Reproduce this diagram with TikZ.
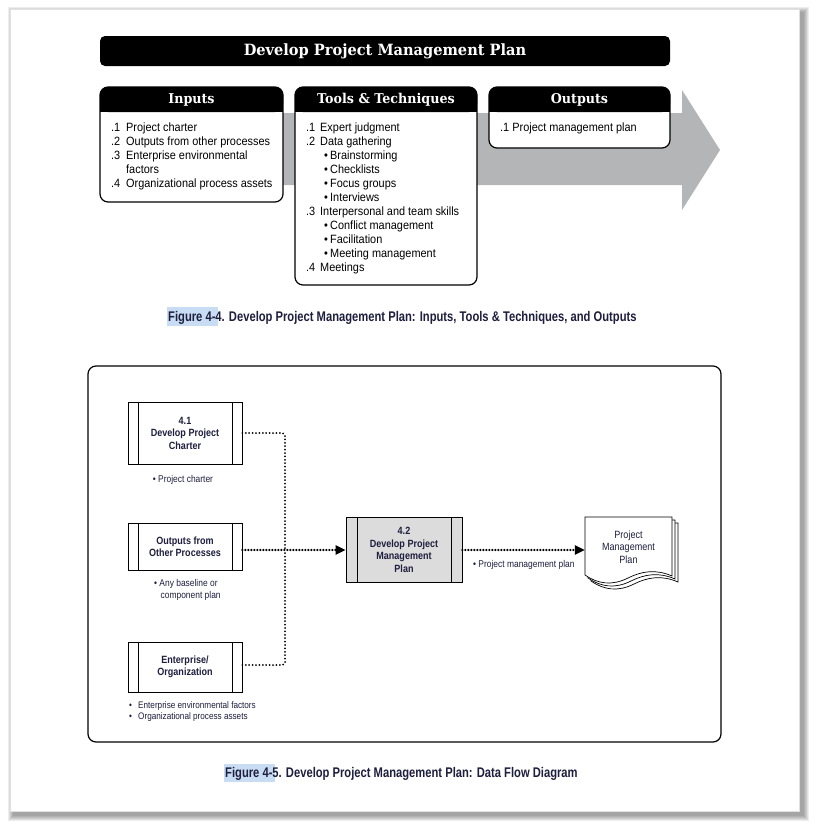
\documentclass[tikz,border=0pt]{standalone}
\usepackage{fontspec}
\setmainfont{Liberation Sans}
\newfontfamily\bodyfont{Liberation Sans}[FakeStretch=0.91]
\newfontfamily\smallfont{Liberation Sans}[FakeStretch=0.86]
\newfontfamily\capfont{Liberation Sans}[FakeStretch=0.80]
\newfontfamily\slabfont{DejaVu Serif}[FakeStretch=0.94]
\usetikzlibrary{arrows.meta}

\definecolor{arrowgray}{RGB}{180,181,183}
\definecolor{navy}{RGB}{30,30,62}
\definecolor{hilite}{RGB}{200,221,243}
\definecolor{procfill}{RGB}{220,220,220}

\newcommand\blt{\makebox[10pt][l]{\hspace{4pt}\textbullet}}

% one Inputs / Tools / Outputs panel: x-left, x-right, y-bottom, name, title
\newcommand\itobox[5]{%
  \fill[white, rounded corners=8] (#1,87) rectangle (#2,#3);
  \fill[black, rounded corners=8] (#1,87) rectangle (#2,112);
  \fill[black] (#1,100) rectangle (#2,112);
  \draw[line width=1.2, rounded corners=8] (#1,87) rectangle (#2,#3);
  \node[hdr] (#4) at ({(#1+#2)/2},100) {#5};
}

% one sheet of the stacked document symbol, shifted by (#1,#2)
\newcommand\docsheet[2]{%
  \filldraw[fill=white, line width=0.7]
    (585+#1,517+#2) -- (672+#1,517+#2) -- (672+#1,576+#2)
    .. controls (656+#1,569+#2) and (642+#1,571+#2) .. (628+#1,578+#2)
    .. controls (612+#1,586+#2) and (598+#1,584+#2) .. (585+#1,575+#2) -- cycle;
}

\tikzset{
  hdr/.style={text=white, inner sep=0,
    font=\slabfont\bfseries\fontsize{13.5}{15}\selectfont},
  listtext/.style={inner sep=0, anchor=base west,
    font=\bodyfont\fontsize{12}{14}\selectfont},
  procbox/.style={draw, line width=0.8, minimum width=114, inner sep=0,
    align=center, text=navy,
    font=\smallfont\bfseries\fontsize{10.5}{12.5}\selectfont,
    path picture={
      \draw[line width=0.8]
        ([xshift=10]path picture bounding box.north west) --
        ([xshift=10]path picture bounding box.south west)
        ([xshift=-10]path picture bounding box.north east) --
        ([xshift=-10]path picture bounding box.south east);}},
  lbl/.style={inner sep=0, text=navy,
    font=\smallfont\fontsize{9.8}{12}\selectfont},
  dotline/.style={line width=2, line cap=round,
    dash pattern=on 0pt off 3.4pt},
  dotdense/.style={line width=2.4, line cap=round,
    dash pattern=on 0pt off 3pt},
  tip/.style={-{Triangle[length=10pt,width=9pt]}},
  caption/.style={inner sep=0, anchor=base west, text=navy,
    font=\capfont\bfseries\fontsize{14}{16}\selectfont},
}

\begin{document}
\begin{tikzpicture}[x=1pt,y=-1pt]
\useasboundingbox (0,0) rectangle (817,830);

% page with soft drop shadow
\foreach \k in {0,...,5}
  \fill[black, opacity=0.07] (13-\k,12-\k) rectangle (804+\k,816+\k);
\fill[white] (10,9) rectangle (799,811);
\draw[black!12, line width=0.5] (10,9) rectangle (799,811);

% ---------- Figure 4-4 ----------
\node[fill=black, rounded corners=5, minimum width=570, minimum height=30,
      inner sep=0, text=white,
      font=\slabfont\bfseries\fontsize{15.5}{18}\selectfont]
  (title) at (385,51) {Develop Project Management Plan};

% broad grey process arrow
\fill[arrowgray] (100,113) -- (682,113) -- (682,90) -- (720,150)
  -- (682,210) -- (682,185) -- (100,185) -- cycle;

\itobox{100}{283}{202}{inhdr}{Inputs}
\itobox{295}{477}{285}{tthdr}{Tools \& Techniques}
\itobox{489}{670}{148}{outhdr}{Outputs}

\node[listtext] (inlist) at (111,131) {%
  \begin{tabular}[t]{@{}p{15pt}@{}l@{}}
  .1 & Project charter\\
  .2 & Outputs from other processes\\
  .3 & Enterprise environmental\\
     & factors\\
  .4 & Organizational process assets
  \end{tabular}};

\node[listtext] (ttlist) at (306,131) {%
  \begin{tabular}[t]{@{}p{14pt}@{}l@{}}
  .1 & Expert judgment\\
  .2 & Data gathering\\
     & \blt Brainstorming\\
     & \blt Checklists\\
     & \blt Focus groups\\
     & \blt Interviews\\
  .3 & Interpersonal and team skills\\
     & \blt Conflict management\\
     & \blt Facilitation\\
     & \blt Meeting management\\
  .4 & Meetings
  \end{tabular}};

\node[listtext] (outlist) at (500,131) {.1 Project management plan};

\fill[hilite] (167,307) rectangle (218,326);
\node[caption] (cap1) at (168,321)
  {Figure 4-4. Develop Project Management Plan: Inputs, Tools \& Techniques, and Outputs};

% ---------- Figure 4-5 ----------
\draw[line width=1.2, rounded corners=8] (88,366) rectangle (721,742);

\node[procbox, minimum height=62] (p41) at (185,433)
  {4.1\\Develop Project\\Charter};
\node[procbox, minimum height=47] (pout) at (185,546.5)
  {Outputs from\\Other Processes};
\node[procbox, minimum height=50] (pent) at (185,667)
  {Enterprise/\\Organization};
\node[procbox, minimum height=65, minimum width=116, fill=procfill,
      path picture={
        \draw[line width=0.8]
          ([xshift=11]path picture bounding box.north west) --
          ([xshift=11]path picture bounding box.south west)
          ([xshift=-11]path picture bounding box.north east) --
          ([xshift=-11]path picture bounding box.south east);}]
  (p42) at (404,550) {4.2\\Develop Project\\Management\\Plan};

\node[lbl, anchor=base] (l41) at (183,482) {\textbullet\ Project charter};
\node[lbl, anchor=base west] (lout) at (154,586) {%
  \begin{tabular}[t]{@{}l@{}}
  \textbullet\ Any baseline or\\
  \hspace{6.5pt}component plan
  \end{tabular}};
\node[lbl, anchor=base west, font=\smallfont\fontsize{9.5}{11}\selectfont]
  (lent) at (129,708) {%
  \begin{tabular}[t]{@{}p{9pt}@{}l@{}}
  \textbullet & Enterprise environmental factors\\
  \textbullet & Organizational process assets
  \end{tabular}};

% stacked document symbol
\docsheet{6}{6}
\docsheet{3}{3}
\docsheet{0}{0}
\node[minimum width=87, minimum height=60, inner sep=0, align=center,
      text=navy, font=\smallfont\fontsize{10.5}{12.5}\selectfont]
  (doc) at (628.5,547) {Project\\Management\\Plan};

% data flows
\coordinate (j) at (285,550);
\draw[dotline, rounded corners=3] (p41.east) -| (j);
\draw[dotline, rounded corners=3] (pent.east |- 0,665) -| (j);
\draw[dotdense, tip] (pout.east |- j) -- (p42.west);
\draw[dotdense, tip] (p42.east) -- (doc.west |- p42.east);
\node[lbl, anchor=base west] (lplan) at (473,567) {\textbullet\ Project management plan};

\fill[hilite] (224,764) rectangle (275,782);
\node[caption] (cap2) at (225,777)
  {Figure 4-5. Develop Project Management Plan: Data Flow Diagram};

\end{tikzpicture}
\end{document}
